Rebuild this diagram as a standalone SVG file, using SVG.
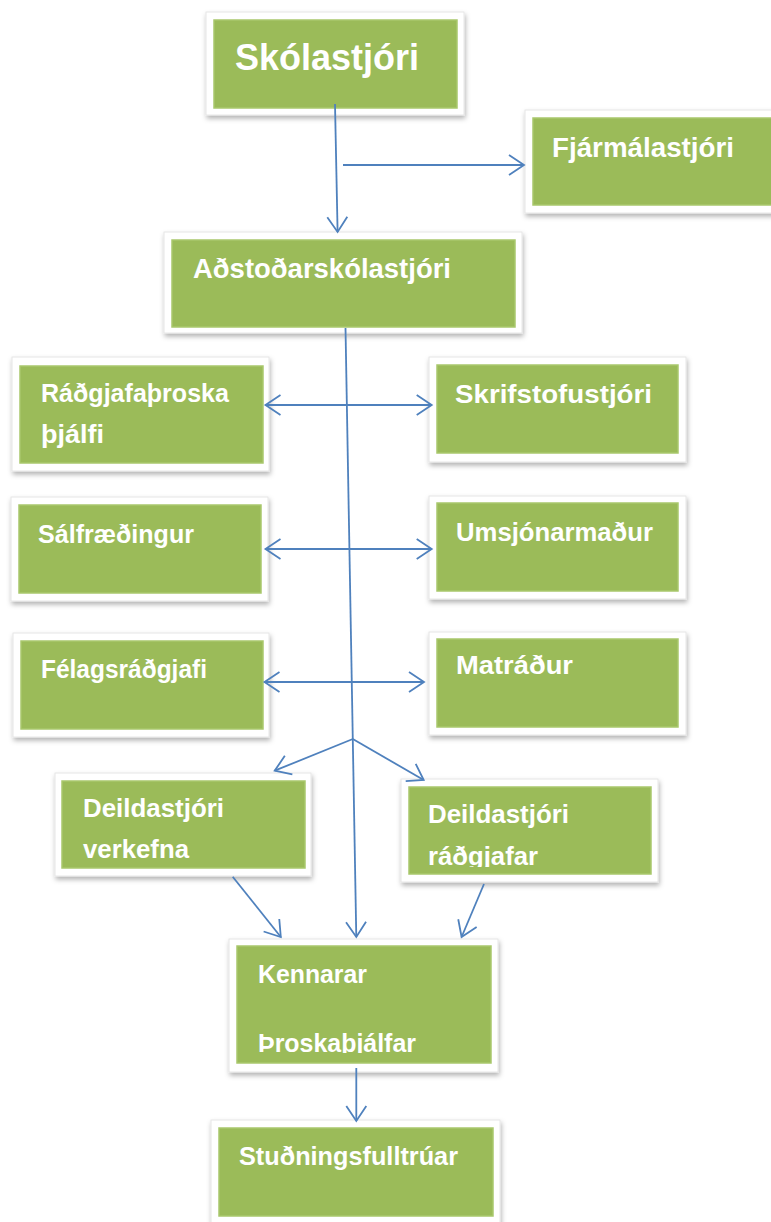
<svg xmlns="http://www.w3.org/2000/svg" width="771" height="1222" viewBox="0 0 771 1222">
<style>
.frame{fill:#ffffff;stroke:#e6e6e6;stroke-width:1;filter:url(#sh)}
.box{fill:#9bbb59;stroke:#a9c86c;stroke-width:1.5}
.t{font-family:"Liberation Sans",Arial,sans-serif;font-weight:bold;fill:#ffffff;font-size:26px}
.big{font-size:37px}
.mid{font-size:27px}
.c{fill:none;stroke:#4f81bd;stroke-width:1.8}
</style>
<defs>
<filter id="sh" x="-10%" y="-10%" width="120%" height="130%">
<feDropShadow dx="1" dy="3" stdDeviation="2.5" flood-color="#000000" flood-opacity="0.3"/>
</filter>
<marker id="ah" viewBox="-17 -11 19 22" markerWidth="19" markerHeight="22" refX="0" refY="0" orient="auto-start-reverse" markerUnits="userSpaceOnUse" overflow="visible">
<path d="M-15,-10 L0,0 L-15,10" fill="none" stroke="#4f81bd" stroke-width="1.8"/>
</marker>
<clipPath id="clipR"><rect x="400" y="780" width="260" height="87"/></clipPath>
<clipPath id="clipK"><rect x="228" y="940" width="270" height="113"/></clipPath>
</defs>

<g id="n-skolastjori">
<rect class="frame" x="206" y="12" width="258" height="103"/>
<rect class="box" x="214" y="20" width="243" height="88"/>
<text class="t big" x="235" y="70" textLength="184" lengthAdjust="spacingAndGlyphs">Skólastjóri</text>
</g>

<g id="n-fjarmalastjori">
<rect class="frame" x="525" y="110" width="260" height="103"/>
<rect class="box" x="533" y="118" width="250" height="87"/>
<text class="t mid" x="552" y="157" textLength="182" lengthAdjust="spacingAndGlyphs">Fjármálastjóri</text>
</g>

<g id="n-adstodarskolastjori">
<rect class="frame" x="164" y="232" width="358" height="101"/>
<rect class="box" x="172" y="240" width="343" height="87"/>
<text class="t mid" x="193" y="278" textLength="258" lengthAdjust="spacingAndGlyphs">Aðstoðarskólastjóri</text>
</g>

<g id="n-radgjafathroskathjalfi">
<rect class="frame" x="12" y="357" width="257" height="114"/>
<rect class="box" x="20" y="366" width="243" height="97"/>
<text class="t" x="41" y="402" textLength="188" lengthAdjust="spacingAndGlyphs">Ráðgjafaþroska</text>
<text class="t" x="41" y="443" textLength="63" lengthAdjust="spacingAndGlyphs">þjálfi</text>
</g>

<g id="n-skrifstofustjori">
<rect class="frame" x="429" y="357" width="257" height="105"/>
<rect class="box" x="437" y="365" width="241" height="88"/>
<text class="t" x="455" y="403" textLength="197" lengthAdjust="spacingAndGlyphs">Skrifstofustjóri</text>
</g>

<g id="n-salfraedingur">
<rect class="frame" x="11" y="497" width="257" height="104"/>
<rect class="box" x="19" y="505" width="242" height="88"/>
<text class="t" x="38" y="543" textLength="156" lengthAdjust="spacingAndGlyphs">Sálfræðingur</text>
</g>

<g id="n-umsjonarmadur">
<rect class="frame" x="429" y="496" width="257" height="103"/>
<rect class="box" x="437" y="503" width="241" height="88"/>
<text class="t" x="456" y="541" textLength="197" lengthAdjust="spacingAndGlyphs">Umsjónarmaður</text>
</g>

<g id="n-felagsradgjafi">
<rect class="frame" x="13" y="633" width="256" height="104"/>
<rect class="box" x="21" y="641" width="242" height="88"/>
<text class="t" x="41" y="678" textLength="166" lengthAdjust="spacingAndGlyphs">Félagsráðgjafi</text>
</g>

<g id="n-matradur">
<rect class="frame" x="429" y="632" width="257" height="103"/>
<rect class="box" x="437" y="639" width="241" height="88"/>
<text class="t" x="456" y="674" textLength="117" lengthAdjust="spacingAndGlyphs">Matráður</text>
</g>

<g id="n-deildastjori-verkefna">
<rect class="frame" x="55" y="773" width="256" height="103"/>
<rect class="box" x="62" y="781" width="243" height="87"/>
<text class="t" x="83" y="817" textLength="141" lengthAdjust="spacingAndGlyphs">Deildastjóri</text>
<text class="t" x="83" y="858" textLength="106" lengthAdjust="spacingAndGlyphs">verkefna</text>
</g>

<g id="n-deildastjori-radgjafar">
<rect class="frame" x="401" y="779" width="257" height="103"/>
<rect class="box" x="409" y="787" width="242" height="87"/>
<text class="t" x="428" y="823" textLength="141" lengthAdjust="spacingAndGlyphs">Deildastjóri</text>
<text class="t" x="428" y="865" textLength="110" lengthAdjust="spacingAndGlyphs" clip-path="url(#clipR)">ráðgjafar</text>
</g>

<g id="n-kennarar">
<rect class="frame" x="229" y="939" width="269" height="133"/>
<rect class="box" x="237" y="946" width="254" height="117"/>
<text class="t" x="258" y="983" textLength="109" lengthAdjust="spacingAndGlyphs">Kennarar</text>
<text class="t" x="258" y="1052" textLength="158" lengthAdjust="spacingAndGlyphs" clip-path="url(#clipK)">Þroskaþjálfar</text>
</g>

<g id="n-studningsfulltruar">
<rect class="frame" x="211" y="1120" width="289" height="112"/>
<rect class="box" x="219" y="1128" width="274" height="88"/>
<text class="t" x="239" y="1165" textLength="219" lengthAdjust="spacingAndGlyphs">Stuðningsfulltrúar</text>
</g>

<g id="connectors">
<line class="c" x1="335" y1="104" x2="337.6" y2="232" marker-end="url(#ah)"/>
<line class="c" x1="343" y1="165" x2="524" y2="165" marker-end="url(#ah)"/>
<line class="c" x1="345.5" y1="328" x2="356.3" y2="937" marker-end="url(#ah)"/>
<line class="c" x1="265.5" y1="405" x2="431.7" y2="405" marker-start="url(#ah)" marker-end="url(#ah)"/>
<line class="c" x1="265.5" y1="549" x2="431.7" y2="549" marker-start="url(#ah)" marker-end="url(#ah)"/>
<line class="c" x1="264.5" y1="682" x2="424" y2="682" marker-start="url(#ah)" marker-end="url(#ah)"/>
<line class="c" x1="352.8" y1="739" x2="274.7" y2="770.7" marker-end="url(#ah)"/>
<line class="c" x1="352.8" y1="739" x2="423.7" y2="780" marker-end="url(#ah)"/>
<line class="c" x1="232.7" y1="876.7" x2="280.8" y2="937" marker-end="url(#ah)"/>
<line class="c" x1="484" y1="884" x2="461.6" y2="937" marker-end="url(#ah)"/>
<line class="c" x1="356.3" y1="1068" x2="356.3" y2="1121" marker-end="url(#ah)"/>
</g>
</svg>
